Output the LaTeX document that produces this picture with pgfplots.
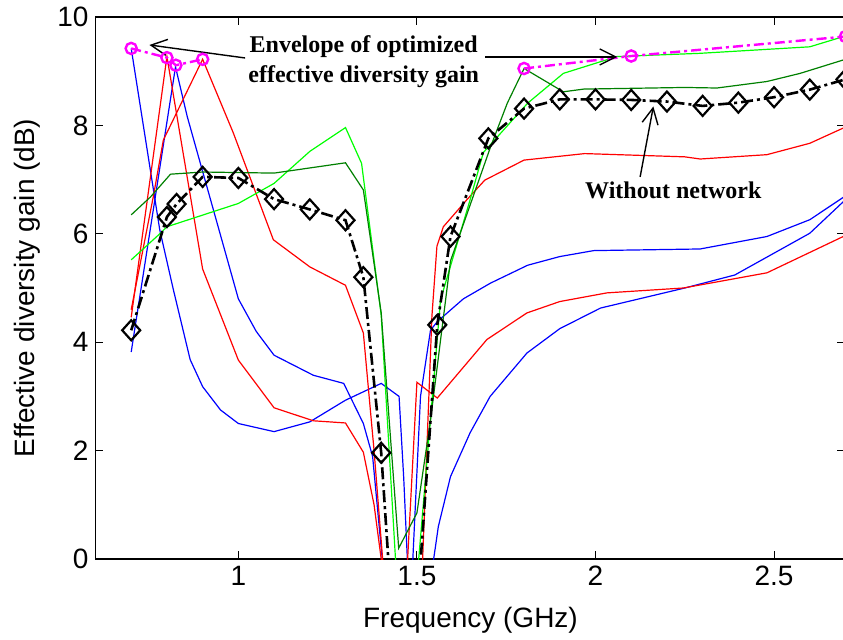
\documentclass[border=0pt]{standalone}
\usepackage{pgfplots}
\pgfplotsset{compat=1.18}
\usetikzlibrary{arrows.meta}
\usepackage{fontspec}
\setmainfont{Liberation Sans}
\newfontfamily\timesfont{Liberation Serif}
\definecolor{mblue}{rgb}{0,0,1}
\definecolor{mred}{rgb}{1,0,0}
\definecolor{mlgreen}{rgb}{0,1,0}
\definecolor{mdgreen}{rgb}{0,0.5,0}
\definecolor{mmag}{rgb}{1,0,1}
\begin{document}
\begin{tikzpicture}
\useasboundingbox (-47.75pt,-40pt) rectangle (373.75pt,279.5pt);
\begin{axis}[
  scale only axis, width=375pt, height=271pt,
  xmin=0.6, xmax=2.7, ymin=0, ymax=10,
  xtick={1,1.5,2,2.5}, ytick={0,2,4,6,8,10},
  tick align=inside, major tick length=4pt,
  every tick/.style={black, line width=0.5pt},
  axis line style={line width=0.7pt},
  /pgf/number format/assume math mode=true,
  tick label style={font=\fontsize{14}{16}\selectfont},
  label style={font=\fontsize{14}{16}\selectfont},
  xlabel={Frequency (GHz)},
  ylabel={Effective diversity gain (dB)},
  xlabel style={at={(axis description cs:0.5,-0.1125)}, anchor=center},
  ylabel style={at={(axis description cs:-0.0907,0.5)}, anchor=center},
  every axis plot/.append style={line width=0.6pt},
]
% blue G + F
\addplot[mblue] coordinates {(0.7,9.42) (0.78,6.07) (0.818,4.97) (0.865,3.68) (0.9,3.18) (0.95,2.75) (1.0,2.5) (1.1,2.35) (1.2,2.53) (1.3,2.93) (1.4,3.24) (1.45,3.0) (1.463,1.5) (1.48,-1) (1.525,-1) (1.56,0.6) (1.594,1.52) (1.649,2.33) (1.705,3.0) (1.808,3.8) (1.9,4.25) (2.014,4.63) (2.25,5.0) (2.39,5.24) (2.6,6.01) (2.7,6.63)};
% blue H + E
\addplot[mblue] coordinates {(0.7,3.82) (0.824,9.08) (0.857,8.16) (0.96,5.74) (1.0,4.8) (1.05,4.2) (1.1,3.76) (1.21,3.39) (1.295,3.24) (1.35,2.5) (1.376,1.89) (1.41,-0.5) (1.485,-0.5) (1.51,3.0) (1.538,4.22) (1.557,4.38) (1.63,4.8) (1.706,5.09) (1.81,5.42) (1.9,5.58) (1.995,5.69) (2.293,5.72) (2.48,5.95) (2.6,6.26) (2.7,6.7)};
% red A + D
\addplot[mred] coordinates {(0.7,4.46) (0.8,9.27) (0.9,5.35) (1.0,3.67) (1.1,2.79) (1.21,2.55) (1.3,2.51) (1.35,1.97) (1.38,1.0) (1.41,-0.5) (1.47,-0.5) (1.5,3.26) (1.557,2.97) (1.696,4.05) (1.808,4.54) (1.9,4.75) (2.032,4.91) (2.246,5.0) (2.48,5.28) (2.7,5.97)};
% red B + C
\addplot[mred] coordinates {(0.7,4.6) (0.762,6.69) (0.79,7.73) (0.9,9.22) (0.986,7.86) (1.098,5.89) (1.2,5.39) (1.3,5.05) (1.35,4.17) (1.38,2.0) (1.41,-0.5) (1.51,-0.5) (1.516,0) (1.542,4.48) (1.556,5.77) (1.574,6.13) (1.64,6.63) (1.69,6.99) (1.8,7.36) (1.97,7.48) (2.25,7.42) (2.293,7.38) (2.48,7.46) (2.6,7.67) (2.7,7.97)};
% light green
\addplot[mlgreen] coordinates {(0.7,5.52) (0.78,6.0) (0.8,6.13) (1.0,6.56) (1.1,6.93) (1.2,7.52) (1.3,7.96) (1.345,7.3) (1.4,4.5) (1.44,0) (1.46,-1) (1.49,-1) (1.505,0) (1.566,4.78) (1.649,6.63) (1.686,7.5) (1.81,8.41) (1.91,8.96) (2.06,9.27) (2.293,9.33) (2.6,9.45) (2.7,9.65)};
% dark green
\addplot[mdgreen] coordinates {(0.7,6.35) (0.754,6.68) (0.81,7.1) (0.9,7.14) (1.1,7.12) (1.3,7.31) (1.35,6.81) (1.4,4.54) (1.449,0.2) (1.5,0.85) (1.538,2.56) (1.594,5.5) (1.706,7.6) (1.753,8.41) (1.8,9.05) (1.91,8.62) (1.967,8.67) (2.25,8.7) (2.34,8.69) (2.48,8.81) (2.573,8.96) (2.7,9.22)};
% without network
\addplot[black, line width=1.3pt, dash pattern=on 6pt off 2pt on 1.5pt off 2pt,
  mark=diamond, mark size=5pt, mark options={solid, xscale=1.2, line width=1.1pt}]
  coordinates {(0.7,4.22) (0.8,6.31) (0.827,6.55) (0.9,7.05) (1.0,7.03) (1.1,6.64) (1.2,6.45) (1.3,6.25) (1.35,5.2) (1.4,1.96) (1.43,-1.0) (1.5,-1.0) (1.557,4.32) (1.594,5.95) (1.7,7.76) (1.8,8.31) (1.9,8.48) (2.0,8.48) (2.1,8.47) (2.2,8.44) (2.3,8.36) (2.4,8.42) (2.5,8.52) (2.6,8.66) (2.7,8.85)};
% envelope
\addplot[mmag, line width=1.2pt, dash pattern=on 5pt off 2pt on 1.5pt off 2pt,
  mark=o, mark size=2.8pt, mark options={solid}]
  coordinates {(0.7,9.42) (0.8,9.25) (0.825,9.11) (0.9,9.22)};
\addplot[mmag, line width=1.2pt, dash pattern=on 5pt off 2pt on 1.5pt off 2pt,
  mark=o, mark size=2.8pt, mark options={solid}]
  coordinates {(1.8,9.05) (2.1,9.28) (2.7,9.64)};
% annotations
\node[font=\timesfont\bfseries\fontsize{12}{15}\selectfont, align=center] at (axis cs:1.351,9.17) {Envelope of optimized\\effective diversity gain};
\node[font=\timesfont\bfseries\fontsize{12}{15}\selectfont] at (axis cs:2.218,6.81) {Without network};
\draw[line width=0.7pt, -{Straight Barb[length=8pt,width=8pt]}] (axis cs:1.019,9.244) -- (axis cs:0.751,9.484);
\draw[line width=0.7pt, -{Straight Barb[length=8pt,width=8pt]}] (axis cs:1.691,9.263) -- (axis cs:2.061,9.263);
\draw[line width=0.7pt, -{Straight Barb[length=8pt,width=8pt]}] (axis cs:2.125,7.05) -- (axis cs:2.162,8.35);
\end{axis}
\end{tikzpicture}
\end{document}
